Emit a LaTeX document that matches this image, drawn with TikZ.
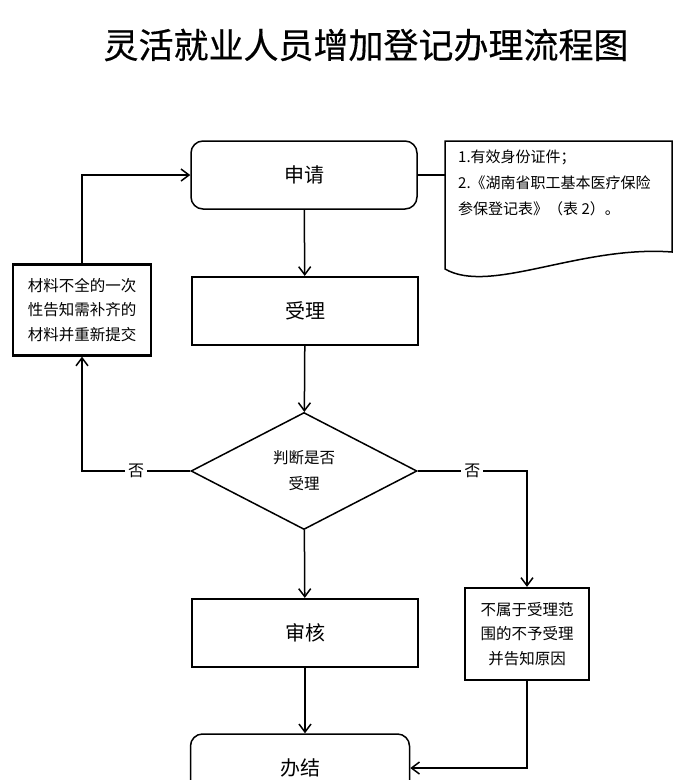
\documentclass[tikz,border=0pt]{standalone}
\usepackage{fontspec}
\setmainfont{Noto Sans CJK SC}
\newfontfamily\titlefont[FakeBold=0.4]{Noto Sans CJK SC}
\usetikzlibrary{arrows.meta,shapes.geometric}
\tikzset{stepbox/.style={draw,line width=2.2pt,minimum width=226pt,minimum height=68pt,
        inner sep=0pt,font=\fontsize{20pt}{24pt}\selectfont},
    roundbox/.style={stepbox,line width=1.5pt,rounded corners=12pt},
    notebox/.style={draw,line width=2.2pt,inner sep=0pt,align=center,
        font=\fontsize{15.5pt}{24.5pt}\selectfont},
    decision/.style={draw,diamond,line width=1.5pt,minimum width=226pt,minimum height=117pt,
        inner sep=0pt,align=center,font=\fontsize{15.5pt}{26pt}\selectfont},
    flow/.style={line width=1.5pt,-{Straight Barb[length=8pt,width=12pt]}},
    nolabel/.style={fill=white,inner sep=3pt,font=\fontsize{16pt}{16pt}\selectfont}
}

\begin{document}
\begin{tikzpicture}[x=1pt,y=-1pt]
    \useasboundingbox (0,0) rectangle (693,780);
    \clip (0,0) rectangle (693,780);

    % Title
    \node (title) at (366,45) {\titlefont\fontsize{35pt}{35pt}\selectfont 灵活就业人员增加登记办理流程图};

    % Main steps
    \node[roundbox] (apply) at (304,175) {申请};
    \node[stepbox] (accept) at (305,311) {受理};
    \node[decision] (judge) at (304,471) {判断是否\\受理};
    \node[stepbox] (review) at (305,633) {审核};
    \node[roundbox,minimum width=219pt] (finish) at (300,768) {办结};

    % Required documents
    \draw[line width=1.5pt] (445,141) -- (672,141) -- (672,252)
        .. controls (580,245) and (490,295) .. (445,269) -- cycle;
    \coordinate (docl) at (445,175);
    \node[anchor=north west,align=left,inner sep=0pt,font=\fontsize{15pt}{26pt}\selectfont]
        (docs) at (458,150) {1.有效身份证件；\\2.《湖南省职工基本医疗保险\\参保登记表》（表 2）。};

    % Side boxes
    \node[notebox,minimum width=138pt,minimum height=91pt] (resubmit) at (82,310)
        {材料不全的一次\\性告知需补齐的\\材料并重新提交};
    \node[notebox,minimum width=124pt,minimum height=92pt] (reject) at (527,634)
        {不属于受理范\\围的不予受理\\并告知原因};

    % Connectors
    \draw[line width=1.5pt] (apply.east) -- (docl);
    \draw[flow] (apply) -- (accept);
    \draw[flow] (accept) -- (judge);
    \draw[flow] (judge) -- (review);
    \draw[flow] (review.south) -- (review.south |- finish.north);
    \draw[flow] (judge.west) -| node[nolabel,pos=.25] {否} (resubmit.south);
    \draw[flow] (resubmit.north) |- (apply.west);
    \draw[flow] (judge.east) -| node[nolabel,pos=.25] {否} (reject.north);
    \draw[flow] (reject.south) |- (finish.east);
\end{tikzpicture}
\end{document}
